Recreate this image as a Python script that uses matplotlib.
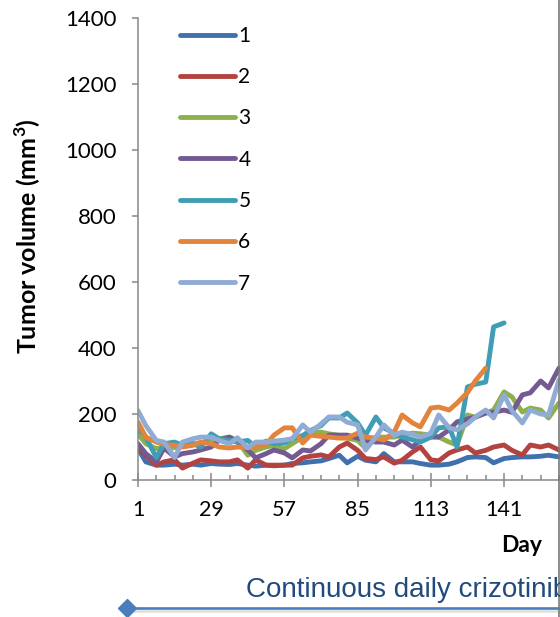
import matplotlib.pyplot as plt
from matplotlib.ticker import MultipleLocator, FixedLocator
from matplotlib.lines import Line2D

plt.rcParams['font.family'] = ['Lato', 'DejaVu Sans']

# measurement days (twice weekly)
days = [1, 4, 8, 11, 15, 18, 22, 25, 29, 32, 36, 39, 43, 46, 50, 53, 57, 60, 64, 67,
        71, 74, 78, 81, 85, 88, 92, 95, 99, 102, 106, 109, 113, 116, 120, 123, 127,
        130, 134, 137, 141, 144, 148, 151, 155, 158, 162]

mouse1 = [95, 55, 45, 45, 48, 45, 48, 45, 50, 48, 47, 50, 45, 42, 45, 43, 45, 50, 52, 55,
          58, 65, 75, 52, 72, 60, 55, 80, 55, 55, 55, 50, 45, 45, 48, 55, 68, 70, 68, 52,
          65, 68, 70, 70, 72, 75, 70]
mouse2 = [100, 76, 45, 55, 61, 36, 51, 61, 58, 55, 55, 61, 36, 61, 45, 45, 45, 45, 67, 72,
          76, 70, 100, 112, 90, 65, 62, 70, 51, 60, 85, 100, 61, 58, 82, 91, 100, 82, 90,
          100, 106, 90, 76, 106, 100, 106, 91]
mouse3 = [140, 110, 95, 100, 98, 105, 110, 110, 120, 125, 130, 120, 75, 90, 100, 105, 95,
          110, 130, 142, 145, 140, 135, 127, 120, 97, 130, 130, 130, 135, 142, 140, 136,
          130, 115, 106, 197, 190, 203, 212, 267, 252, 206, 218, 212, 188, 233]
mouse4 = [110, 80, 55, 97, 70, 80, 85, 91, 100, 121, 130, 115, 91, 67, 80, 91, 82, 67, 91,
          88, 110, 136, 136, 136, 127, 120, 115, 115, 106, 121, 100, 121, 130, 130, 152,
          176, 185, 191, 203, 205, 212, 205, 258, 264, 300, 279, 339]
mouse5 = [160, 130, 68, 110, 115, 105, 110, 100, 140, 125, 120, 115, 120, 100, 118, 110,
          112, 125, 135, 150, 165, 188, 188, 203, 173, 136, 191, 158, 142, 130, 122, 115,
          130, 158, 161, 100, 282, 290, 297, 464, 476]
mouse6 = [175, 130, 115, 108, 105, 100, 105, 115, 110, 100, 97, 100, 98, 100, 108, 136,
          158, 158, 112, 136, 132, 130, 127, 127, 142, 130, 127, 121, 145, 197, 173, 161,
          218, 221, 212, 233, 265, 300, 339]
mouse7 = [210, 165, 120, 115, 68, 115, 125, 130, 130, 120, 110, 128, 98, 115, 115, 118,
          121, 125, 167, 145, 170, 191, 191, 175, 167, 91, 130, 167, 136, 145, 138, 130,
          142, 197, 158, 152, 170, 191, 212, 188, 258, 210, 173, 212, 200, 197, 303]

series = [mouse1, mouse2, mouse3, mouse4, mouse5, mouse6, mouse7]
labels = ['1', '2', '3', '4', '5', '6', '7']
colors = ['#4170AE', '#B34340', '#8DB04D', '#735A92', '#3F9DB5', '#E3843C', '#91ACD4']
x_labels = [1, 29, 57, 85, 113, 141]

fig = plt.figure(figsize=(5.6, 6.17), dpi=100)
ax = fig.add_axes([138 / 560, 137 / 617, 422 / 560, 462 / 617])

for vals, lab, c in zip(series, labels, colors):
    ax.plot(days[:len(vals)], vals, color=c, lw=3.5, label=lab,
            solid_capstyle='round', solid_joinstyle='round')

ax.set_xlim(1, 162.4)
ax.set_ylim(0, 1400)
ax.yaxis.set_major_locator(MultipleLocator(200))
ax.xaxis.set_major_locator(FixedLocator(x_labels))
ax.xaxis.set_minor_locator(MultipleLocator(7, offset=1))

axis_grey = '#888888'
for side in ['top', 'right']:
    ax.spines[side].set_visible(False)
for side in ['left', 'bottom']:
    ax.spines[side].set_color(axis_grey)
    ax.spines[side].set_linewidth(1.1)

ax.tick_params(axis='y', direction='out', length=4.5, width=1.1, color=axis_grey,
               labelsize=16, pad=11)
ax.tick_params(axis='x', which='major', direction='inout', length=9.5, width=1.1,
               color=axis_grey, labelsize=15.5, pad=10)
ax.tick_params(axis='x', which='minor', direction='in', length=3.3, width=1.1,
               color=axis_grey)

fig.text(28 / 560, 1 - 236 / 617, 'Tumor volume (mm$^\\mathregular{3}$)', rotation=90,
         ha='center', va='center', fontsize=18, fontweight='bold')
fig.text(522 / 560, 1 - 545 / 617, 'Day', ha='center', va='center', fontsize=16.5,
         fontweight='bold')

leg = ax.legend(loc='upper left', bbox_to_anchor=(180 / 560, 1 - 26 / 617),
                bbox_transform=fig.transFigure, frameon=False, fontsize=15,
                handlelength=2.65, handletextpad=0.15, labelspacing=1.02,
                borderaxespad=0, borderpad=0)

# treatment bar under the chart
fig.text(246 / 560, 1 - 590 / 617, 'Continuous daily crizotinib', color='#234A7E',
         fontsize=20, family='Liberation Sans', ha='left', va='center')
fig.add_artist(Line2D([127 / 560, 1.0], [1 - 610.5 / 617] * 2, color='#C8C8C8',
                      lw=1.8, alpha=0.6))
fig.add_artist(Line2D([127 / 560, 1.0], [1 - 608 / 617] * 2, color='#4A7EBB', lw=1.9))
fig.add_artist(Line2D([127 / 560], [1 - 608 / 617], marker='D', color='#4A7EBB',
                      markersize=9, lw=0))

# right border
fig.add_artist(Line2D([558.5 / 560] * 2, [0, 1], color='#7A7A7A', lw=1.2))

fig.savefig('out.png', dpi=100)
